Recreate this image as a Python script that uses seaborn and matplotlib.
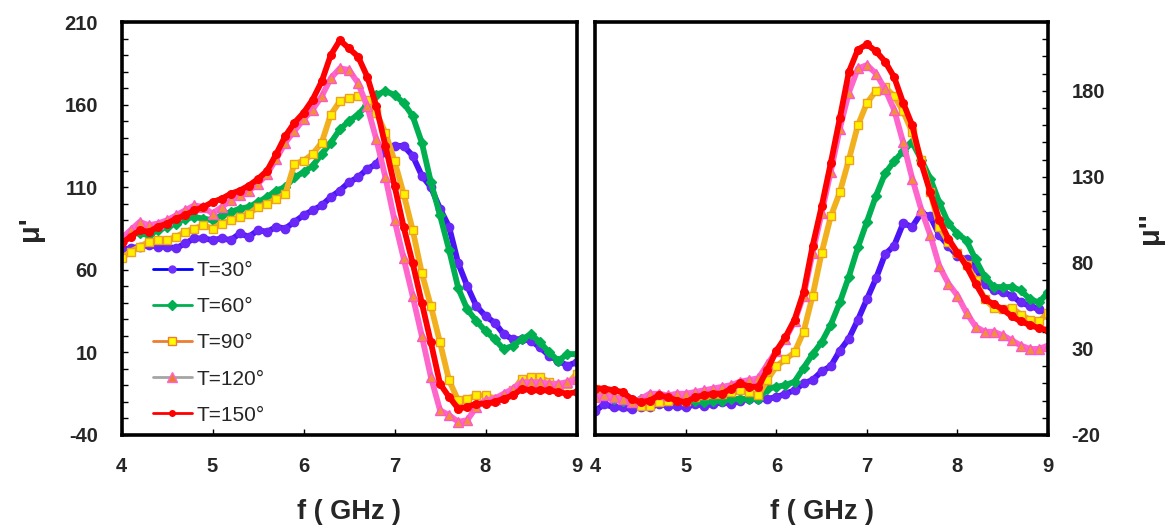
import numpy as np
import pandas as pd
import matplotlib
matplotlib.use("Agg")
import matplotlib.pyplot as plt
from matplotlib.ticker import MultipleLocator
from matplotlib.lines import Line2D
import seaborn as sns

# ---------------- data ----------------
freq = [round(4.0 + 0.1 * i, 1) for i in range(51)]  # GHz
labels = ["T=30°", "T=60°", "T=90°", "T=120°", "T=150°"]

# mu' (real part)
mu1_30 = [72, 73, 74, 75, 74, 74, 73, 76, 79, 79, 78, 79, 78, 82, 80, 84, 83, 86, 85, 89,
          93, 96, 99, 104, 108, 113, 116, 121, 124, 132, 135, 135, 129, 117, 110, 97, 86, 64, 50, 38,
          32, 28, 21, 18, 18, 17, 13, 8, 5, 2, 4]
mu1_60 = [79, 82, 82, 81, 84, 86, 88, 91, 92, 91, 90, 93, 95, 97, 98, 101, 104, 108, 110, 116,
          119, 123, 130, 137, 145, 150, 154, 160, 166, 168, 166, 161, 153, 137, 113, 93, 72, 49, 36, 29,
          23, 18, 12, 14, 18, 21, 16, 10, 5, 9, 9]
mu1_90 = [67, 71, 74, 77, 78, 78, 80, 83, 85, 87, 85, 88, 90, 92, 94, 98, 100, 103, 106, 124,
          126, 130, 137, 154, 162, 164, 165, 163, 155, 143, 126, 106, 84, 58, 38, 16, -7, -19, -18, -16,
          -16, -18, -17, -13, -6, -5, -5, -8, -10, -9, -3]
mu1_120 = [79, 84, 89, 87, 88, 90, 93, 96, 99, 98, 94, 98, 102, 105, 108, 112, 118, 127, 137, 144,
           151, 157, 165, 176, 182, 181, 173, 159, 139, 116, 90, 67, 44, 20, -5, -25, -28, -32, -31, -23,
           -19, -18, -15, -12, -8, -8, -8, -9, -9, -8, -6]
mu1_150 = [76, 80, 84, 83, 86, 88, 91, 93, 96, 98, 101, 103, 106, 108, 111, 115, 120, 130, 141, 149,
           155, 163, 174, 190, 199, 194, 189, 177, 159, 135, 111, 86, 64, 40, 16, -9, -17, -24, -23, -21,
           -21, -20, -18, -16, -12, -13, -13, -13, -14, -15, -14]

# mu'' (imaginary part)
mu2_30 = [-6, -2, -4, -4, -5, -4, -4, -2, -3, -3, -4, -2, -3, -2, -1, -2, 0, 1, 1, 1,
          2, 4, 6, 10, 12, 17, 20, 29, 36, 47, 59, 71, 85, 90, 103, 101, 109, 107, 96, 90,
          84, 82, 77, 68, 64, 63, 61, 57, 55, 53, 50]
mu2_60 = [5, 3, 1, 0, -1, 1, 3, 3, 2, 1, 0, 0, -1, 0, 0, 1, 1, 1, 1, 7,
          8, 9, 11, 19, 27, 34, 44, 57, 72, 89, 104, 119, 132, 139, 145, 150, 140, 129, 115, 103,
          97, 93, 82, 72, 66, 66, 66, 64, 59, 57, 63]
mu2_90 = [7, 5, 3, 1, -1, -3, -3, -1, 0, 1, 0, 2, 3, 4, 4, 5, 6, 5, 3, 12,
          20, 24, 28, 40, 61, 86, 107, 121, 140, 160, 173, 180, 182, 177, 168, 156, 140, 121, 101, 92,
          86, 79, 70, 59, 54, 53, 54, 50, 47, 46, 51]
mu2_120 = [2, 3, 2, 1, -1, 1, 4, 4, 3, 4, 4, 5, 6, 7, 8, 9, 11, 12, 13, 21,
           29, 36, 46, 61, 86, 109, 133, 158, 179, 193, 195, 190, 181, 169, 150, 129, 111, 96, 78, 68,
           61, 51, 43, 40, 40, 38, 35, 32, 30, 30, 32]
mu2_150 = [7, 7, 6, 5, 1, -1, 0, 3, 2, 0, -1, 2, 3, 4, 4, 7, 10, 8, 8, 18,
           29, 37, 47, 63, 90, 113, 138, 164, 191, 204, 207, 203, 197, 188, 173, 160, 138, 121, 105, 94,
           86, 78, 68, 59, 56, 53, 49, 46, 44, 42, 41]

left_series = [mu1_30, mu1_60, mu1_90, mu1_120, mu1_150]
right_series = [mu2_30, mu2_60, mu2_90, mu2_120, mu2_150]

# ---------------- styles ----------------
styles = [
    dict(line="#4A14F6", marker="o", mfc="#6A28F8", mec="#6A28F8", ms=6.0),
    dict(line="#00B050", marker="D", mfc="#00B050", mec="#00B050", ms=5.5),
    dict(line="#F2B01E", marker="s", mfc="#FFF000", mec="#EFA020", ms=6.0),
    dict(line="#FF66CC", marker="^", mfc="#F0903A", mec="#FF55CC", ms=6.5),
    dict(line="#FF0000", marker="o", mfc="#FF0000", mec="#FF0000", ms=5.5),
]
legend_styles = [
    dict(line="#0000FF", marker="o", mfc="#7030FF", mec="#7030FF", ms=5),
    dict(line="#00B050", marker="D", mfc="#00B050", mec="#00B050", ms=5),
    dict(line="#ED7D31", marker="s", mfc="#FFFF00", mec="#ED7D31", ms=6),
    dict(line="#A5A5A5", marker="^", mfc="#ED7D31", mec="#FF66CC", ms=7),
    dict(line="#FF0000", marker="o", mfc="#FF0000", mec="#FF0000", ms=4),
]

sns.set_theme(style="ticks")
plt.rcParams["font.family"] = ["Liberation Sans", "DejaVu Sans"]
plt.rcParams["axes.unicode_minus"] = False

fig = plt.figure(figsize=(11.66, 5.28), dpi=100)
ax1 = fig.add_axes([121.5 / 1166, 1 - 435 / 528, 455 / 1166, 413 / 528])
ax2 = fig.add_axes([595.4 / 1166, 1 - 435 / 528, 452.6 / 1166, 413 / 528])

for ax, series in ((ax1, left_series), (ax2, right_series)):
    for vals, st, lab in zip(series, styles, labels):
        df = pd.DataFrame({"f": freq, "mu": vals})
        sns.lineplot(data=df, x="f", y="mu", ax=ax, color=st["line"], linewidth=4.2,
                     marker=st["marker"], markersize=st["ms"], markerfacecolor=st["mfc"],
                     markeredgecolor=st["mec"], markeredgewidth=1.0, sort=False,
                     errorbar=None, legend=False, clip_on=True)

# left axes
ax1.set_xlim(4, 9)
ax1.set_ylim(-40, 210)
ax1.set_xticks([4, 5, 6, 7, 8, 9])
ax1.set_yticks([-40, 10, 60, 110, 160, 210])
ax1.yaxis.set_minor_locator(MultipleLocator(10))
ax1.tick_params(axis="both", which="both", direction="in", length=4, width=1, color="black")
ax1.tick_params(axis="y", which="major", pad=17)
ax1.tick_params(axis="x", which="major", pad=16)

# right axes
ax2.set_xlim(4, 9)
ax2.set_ylim(-20, 220)
ax2.set_xticks([4, 5, 6, 7, 8, 9])
ax2.set_yticks([-20, 30, 80, 130, 180])
ax2.yaxis.set_minor_locator(MultipleLocator(10))
ax2.yaxis.tick_right()
ax2.yaxis.set_label_position("right")
ax2.tick_params(axis="both", which="both", direction="in", length=4, width=1, color="black")
ax2.tick_params(axis="y", which="major", pad=17)
ax2.tick_params(axis="x", which="major", pad=16)

for ax in (ax1, ax2):
    for lab in ax.get_xticklabels() + ax.get_yticklabels():
        lab.set_fontsize(14.5)
        lab.set_fontweight("bold")
    for sp in ax.spines.values():
        sp.set_visible(True)
        sp.set_linewidth(2.6)
        sp.set_color("black")
    ax.set_xlabel("f ( GHz )", fontsize=19.5, fontweight="bold")
    ax.xaxis.set_label_coords(0.5, -0.186)
    ax.xaxis.label.set_va("center")
    ax.set_facecolor("white")

ax1.set_ylabel("μ'", fontsize=21, fontweight="bold", rotation=90)
ax1.yaxis.set_label_coords(-0.2, 0.5)
ax1.yaxis.label.set_va("center")
ax2.set_ylabel("μ''", fontsize=21, fontweight="bold", rotation=90)
ax2.yaxis.set_label_coords(1.225, 0.5)
ax2.yaxis.label.set_va("center")

handles = [Line2D([0], [0], color=s["line"], linewidth=2, marker=s["marker"],
                  markersize=s["ms"], markerfacecolor=s["mfc"], markeredgecolor=s["mec"])
           for s in legend_styles]
ax1.legend(handles, labels, loc="lower left", bbox_to_anchor=(0.05, 0.005), frameon=False,
           fontsize=15, handlelength=1.9, handletextpad=0.2, labelspacing=0.82,
           borderaxespad=0.0)

fig.savefig("out.png", dpi=100, facecolor="white")
